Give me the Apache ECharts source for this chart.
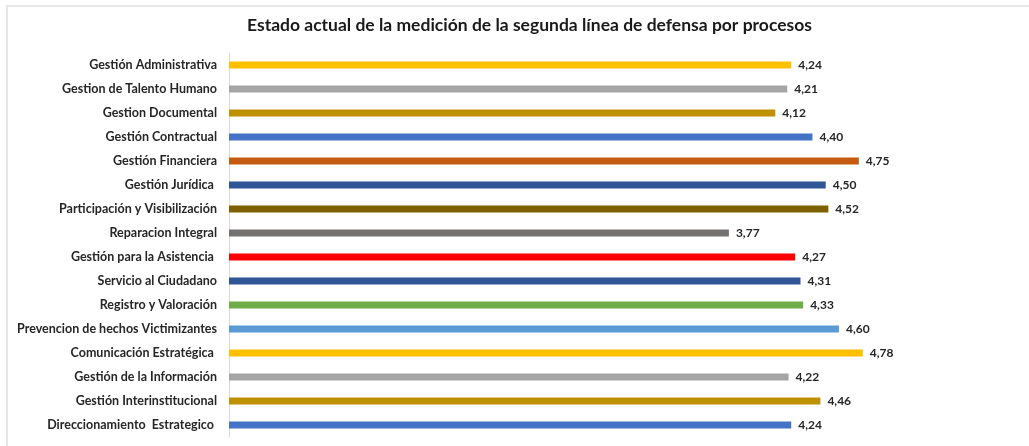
<!DOCTYPE html>
<html>
<head>
<meta charset="utf-8">
<script src="https://cdn.jsdelivr.net/npm/echarts@6/dist/echarts.min.js"></script>
<style>
	html, body { margin: 0; padding: 0; background: #fff; }
	#chart {
		position: absolute;
		left: 6px;
		top: 5px;
		width: 1023px;
		height: 441px;
		border-top: 2px solid #e6e6e6;
		border-left: 2px solid #e6e6e6;
	}
</style>
</head>
<body>
<div id="chart"></div>
<script>
// procesos (de arriba hacia abajo)
const categories = [
	'Gestión Administrativa',
	'Gestion de Talento Humano',
	'Gestion Documental',
	'Gestión Contractual',
	'Gestión Financiera',
	'Gestión Jurídica ',
	'Participación y Visibilización',
	'Reparacion Integral',
	'Gestión para la Asistencia ',
	'Servicio al Ciudadano',
	'Registro y Valoración',
	'Prevencion de hechos Victimizantes',
	'Comunicación Estratégica ',
	'Gestión de la Información',
	'Gestión Interinstitucional',
	'Direccionamiento  Estrategico '
]
const values = [4.24, 4.21, 4.12, 4.40, 4.75, 4.50, 4.52, 3.77, 4.27, 4.31, 4.33, 4.60, 4.78, 4.22, 4.46, 4.24]
const barColors = [
	'#FFC000', '#A5A5A5', '#BF9000', '#4472C4',
	'#C55A11', '#2F5597', '#7F6000', '#767171',
	'#FF0000', '#2F5597', '#70AD47', '#5B9BD5',
	'#FFC000', '#A5A5A5', '#BF9000', '#4472C4'
]

const chart = echarts.init(document.getElementById('chart'))
const option = {
	animation: false,
	textStyle: { fontFamily: 'Lato' },
	title: {
		text: 'Estado actual de la medición de la segunda línea de defensa por procesos',
		left: 234,
		top: 4,
		textStyle: {
			fontFamily: 'Lato',
			fontWeight: 'bold',
			fontSize: 17.5,
			color: '#1a1a1a'
		}
	},
	grid: {
		left: 221,
		top: 46,
		width: 663,
		height: 384
	},
	xAxis: {
		type: 'value',
		min: 0,
		max: 5,
		show: false
	},
	yAxis: {
		type: 'category',
		inverse: true,
		data: categories,
		axisTick: { show: false },
		axisLine: { show: true, lineStyle: { color: '#d9d9d9', width: 1 } },
		axisLabel: {
			margin: 12,
			fontFamily: 'Lato',
			fontWeight: 'bold',
			fontSize: 12.5,
			color: '#262626'
		}
	},
	series: [
		{
			type: 'bar',
			barWidth: 7,
			data: values.map((v, i) => ({ value: v, itemStyle: { color: barColors[i] } })),
			label: {
				show: true,
				position: 'right',
				distance: 7,
				fontFamily: 'Lato',
				fontWeight: 'bold',
				fontSize: 12,
				color: '#262626',
				formatter: p => p.value.toFixed(2).replace('.', ',')
			}
		}
	]
}
chart.setOption(option)
</script>
</body>
</html>
